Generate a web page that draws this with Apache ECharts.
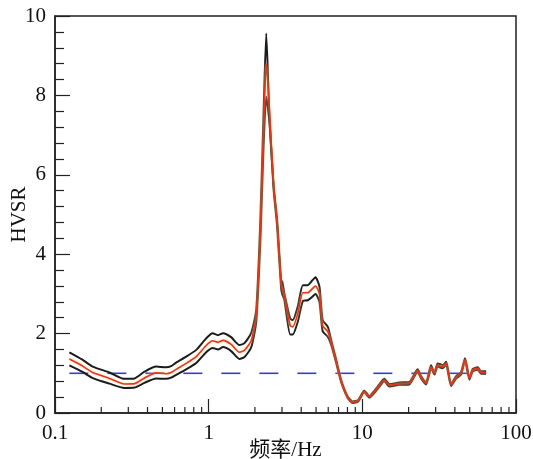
<!DOCTYPE html>
<html>
<head>
<meta charset="utf-8">
<script src="https://cdn.jsdelivr.net/npm/echarts@6/dist/echarts.min.js"></script>
<style>
html,body{margin:0;padding:0;background:#fff;}
#hvsrChart{width:533px;height:459px;}
</style>
</head>
<body>
<div id="hvsrChart"></div>
<script>
// frequency samples (Hz)
var freqs = [0.124, 0.15, 0.176, 0.226, 0.283, 0.329, 0.382, 0.455, 0.528, 0.57, 0.614, 0.714, 0.83, 0.963, 1.06, 1.15, 1.24, 1.40, 1.585, 1.71, 1.89, 2.04, 2.17, 2.27, 2.37, 2.49, 2.65, 2.79, 2.96, 3.01, 3.11, 3.39, 3.53, 3.80, 4.10, 4.41, 4.70, 4.96, 5.26, 5.52, 5.96, 6.27, 6.76, 7.28, 8.04, 8.66, 9.4, 10.3, 11.1, 12.5, 13.9, 15.0, 17.4, 20.2, 22.9, 24.1, 26.0, 28.0, 29.5, 30.9, 33.3, 35.1, 37.8, 40.8, 43.9, 46.6, 49.8, 52.3, 56.3, 59.3, 63.9];
// mean + std
var hvsrUpper = [1.53, 1.35, 1.17, 1.02, 0.86, 0.87, 1.04, 1.17, 1.15, 1.18, 1.27, 1.42, 1.59, 1.88, 2.01, 1.96, 2.01, 1.91, 1.71, 1.76, 2.01, 2.6, 4.86, 7.38, 9.56, 7.38, 5.7, 4.86, 3.35, 3.31, 3.01, 2.38, 2.34, 2.68, 3.22, 3.22, 3.33, 3.42, 3.18, 2.34, 2.17, 1.84, 1.34, 0.83, 0.41, 0.29, 0.33, 0.56, 0.43, 0.65, 0.86, 0.73, 0.77, 0.78, 1.1, 0.93, 0.78, 1.2, 1.03, 1.25, 1.21, 1.29, 0.74, 0.93, 1.03, 1.38, 0.9, 1.11, 1.15, 1.05, 1.05];
// mean
var hvsrMean = [1.36, 1.19, 1.02, 0.87, 0.73, 0.74, 0.88, 1.01, 0.99, 1.02, 1.1, 1.25, 1.42, 1.7, 1.82, 1.78, 1.83, 1.73, 1.53, 1.58, 1.82, 2.45, 4.6, 7.0, 8.8, 7.6, 5.7, 4.8, 3.25, 3.15, 2.95, 2.2, 2.17, 2.5, 3.03, 3.03, 3.12, 3.2, 3.0, 2.2, 2.05, 1.78, 1.3, 0.8, 0.39, 0.27, 0.31, 0.54, 0.41, 0.62, 0.83, 0.7, 0.74, 0.75, 1.07, 0.9, 0.75, 1.16, 1.0, 1.21, 1.17, 1.25, 0.71, 0.9, 1.0, 1.34, 0.87, 1.08, 1.12, 1.02, 1.02];
// mean - std
var hvsrLower = [1.20, 1.04, 0.88, 0.74, 0.63, 0.64, 0.76, 0.87, 0.86, 0.89, 0.96, 1.1, 1.26, 1.53, 1.64, 1.6, 1.66, 1.56, 1.36, 1.41, 1.65, 2.3, 4.35, 6.6, 7.97, 7.3, 5.6, 4.7, 3.15, 3.0, 2.85, 1.98, 1.98, 2.3, 2.82, 2.84, 2.92, 3.0, 2.8, 2.06, 1.92, 1.72, 1.26, 0.78, 0.37, 0.25, 0.29, 0.52, 0.39, 0.59, 0.8, 0.67, 0.71, 0.72, 1.04, 0.87, 0.72, 1.12, 0.97, 1.17, 1.13, 1.21, 0.68, 0.87, 0.97, 1.3, 0.84, 1.05, 1.09, 0.99, 0.99];
var refLevel = 1;
var xTickValues = [0.1, 1, 10, 100];
var minorFreqs = [0.2, 0.3, 0.4, 0.5, 0.6, 0.7, 0.8, 0.9, 2, 3, 4, 5, 6, 7, 8, 9, 20, 30, 40, 50, 60, 70, 80, 90];

var serifFont = "'Liberation Serif', 'Noto Sans CJK SC', serif";
var axisColor = '#222';

function pairs(ys) {
  return freqs.map(function (f, i) { return [f, ys[i]]; });
}

var chart = echarts.init(document.getElementById('hvsrChart'), null, {renderer: 'canvas'});

var option = {
  backgroundColor: '#fff',
  animation: false,
  grid: {
    left: 55, right: 17, top: 16, bottom: 46,
    outerBoundsMode: 'none',
    containLabel: false,
    show: true, borderColor: axisColor, borderWidth: 1.5, backgroundColor: 'transparent'
  },
  xAxis: {
    type: 'log',
    logBase: 10,
    min: 0.1,
    max: 100,
    name: '频率/Hz',
    nameLocation: 'middle',
    nameGap: 27,
    nameMoveOverlap: false,
    nameTextStyle: {fontFamily: serifFont, fontSize: 21, color: '#111'},
    axisLine: {lineStyle: {color: axisColor, width: 1.5}},
    axisTick: {inside: true, length: 14, lineStyle: {color: axisColor, width: 1.2}},
    axisLabel: {
      margin: 10,
      fontFamily: serifFont, fontSize: 21, color: '#111',
      formatter: function (v) {
        for (var i = 0; i < xTickValues.length; i++) {
          if (Math.abs(v - xTickValues[i]) < 1e-6) return String(xTickValues[i]);
        }
        return '';
      }
    },
    splitLine: {show: false}
  },
  yAxis: {
    type: 'value',
    min: 0,
    max: 10,
    interval: 2,
    name: 'HVSR',
    nameLocation: 'middle',
    nameGap: 25,
    nameMoveOverlap: false,
    nameTextStyle: {fontFamily: serifFont, fontSize: 21, color: '#111'},
    axisLine: {show: true, lineStyle: {color: axisColor, width: 1.5}},
    axisTick: {inside: true, length: 15, lineStyle: {color: axisColor, width: 1.2}},
    minorTick: {show: true, splitNumber: 5, length: 9, lineStyle: {color: axisColor, width: 1.2}},
    axisLabel: {margin: 9, fontFamily: serifFont, fontSize: 21, color: '#111'},
    splitLine: {show: false}
  },
  series: [
    {
      // reference line H/V = 1
      type: 'line',
      data: [[freqs[0], refLevel], [freqs[freqs.length - 1], refLevel]],
      symbol: 'none',
      lineStyle: {color: '#3a40b4', width: 1.6, type: [19, 19]},
      z: 1
    },
    {
      type: 'line',
      data: pairs(hvsrUpper),
      symbol: 'none',
      smooth: 0.2,
      lineStyle: {color: '#1b1b1b', width: 2},
      z: 3
    },
    {
      type: 'line',
      data: pairs(hvsrLower),
      symbol: 'none',
      smooth: 0.2,
      lineStyle: {color: '#1b1b1b', width: 2},
      z: 3
    },
    {
      type: 'line',
      data: pairs(hvsrMean),
      symbol: 'none',
      smooth: 0.2,
      lineStyle: {color: '#e8321e', width: 1.6, shadowColor: 'rgba(255,220,140,0.9)', shadowBlur: 3},
      z: 4
    },
    {
      // log minor ticks on the x axis
      type: 'custom',
      data: minorFreqs.map(function (f) { return [f, 0]; }),
      silent: true,
      z: 5,
      renderItem: function (params, api) {
        var p = api.coord([api.value(0), 0]);
        return {
          type: 'line',
          shape: {x1: p[0], y1: p[1], x2: p[0], y2: p[1] - 6},
          style: {stroke: axisColor, lineWidth: 1.2}
        };
      }
    }
  ]
};

chart.setOption(option);
</script>
</body>
</html>
